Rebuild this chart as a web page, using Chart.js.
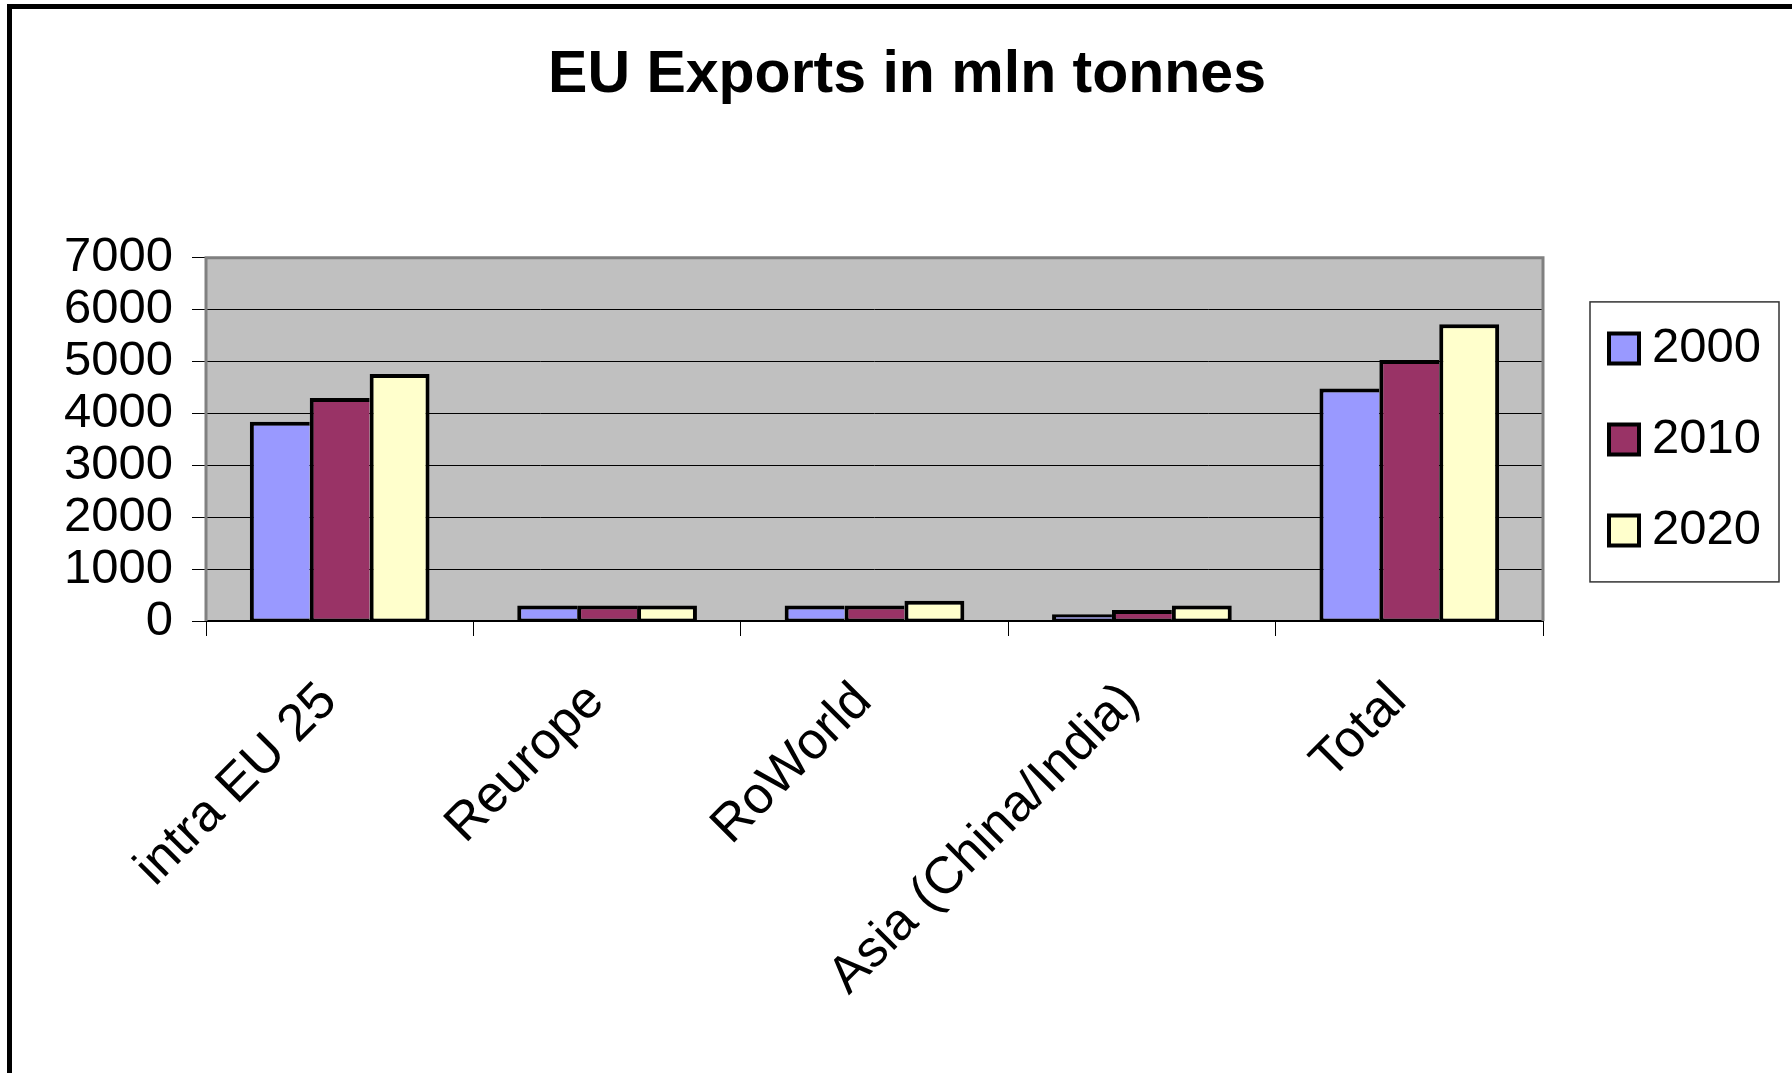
<!DOCTYPE html>
<html>
<head>
<meta charset="utf-8">
<title>EU Exports in mln tonnes</title>
<script src="https://cdn.jsdelivr.net/npm/chart.js@4.4.1/dist/chart.umd.min.js"></script>
<style>
  html, body { margin: 0; padding: 0; background: #fff; }
  #wrap { position: relative; width: 1792px; height: 1073px; overflow: hidden; }
  #frame { position: absolute; left: 7px; top: 4px; right: -20px; bottom: -20px;
           border-top: 5px solid #000; border-left: 5px solid #000; }
  canvas { position: absolute; left: 0; top: 0; }
</style>
</head>
<body>
<div id="wrap">
  <div id="frame"></div>
  <canvas id="chart" width="1792" height="1073"></canvas>
</div>
<script>
const categories = ["intra EU 25", "Reurope", "RoWorld", "Asia (China/India)", "Total"];
const years = ["2000", "2010", "2020"];
const exports2000 = [3840, 300, 300, 130, 4480];
const exports2010 = [4300, 300, 300, 210, 5030];
const exports2020 = [4760, 300, 390, 300, 5720];
const colors = ["#9999ff", "#993366", "#ffffcc"];

const series = [exports2000, exports2010, exports2020];

Chart.defaults.font.family = "'Liberation Sans', Arial, sans-serif";
Chart.defaults.color = "#000";

// grey plot area, its frame, and the box round the legend
const plotFrame = {
  id: "plotFrame",
  beforeDraw(chart) {
    const { ctx, chartArea: a } = chart;
    ctx.save();
    ctx.fillStyle = "#c0c0c0";
    ctx.fillRect(a.left, a.top, a.width, a.height);
    ctx.restore();
  },
  beforeDatasetsDraw(chart) {
    const { ctx, chartArea: a } = chart;
    ctx.save();
    ctx.strokeStyle = "#808080";
    ctx.lineWidth = 3;
    ctx.beginPath();
    ctx.moveTo(a.left, a.bottom);
    ctx.lineTo(a.left, a.top);
    ctx.lineTo(a.right, a.top);
    ctx.lineTo(a.right, a.bottom);
    ctx.stroke();
    ctx.restore();
  },
  afterDraw(chart) {
    const lg = chart.legend;
    const hb = lg.legendHitBoxes;
    if (!hb || !hb.length) return;
    const first = hb[0], last = hb[hb.length - 1];
    const x0 = first.left - 19, y0 = first.top - 22;
    const x1 = lg.right + 18, y1 = last.top + last.height + 27;
    const ctx = chart.ctx;
    ctx.save();
    ctx.strokeStyle = "#333";
    ctx.lineWidth = 1.5;
    ctx.strokeRect(x0, y0, x1 - x0, y1 - y0);
    ctx.restore();
  }
};

const datasets = years.map((year, i) => ({
  label: year,
  data: series[i],
  backgroundColor: colors[i],
  borderColor: "#000",
  borderWidth: { left: 4, top: 4, right: i === years.length - 1 ? 4 : 0, bottom: 2 },
  borderSkipped: false,
  categoryPercentage: 0.672,
  barPercentage: 1
}));

new Chart(document.getElementById("chart"), {
  type: "bar",
  data: { labels: categories, datasets },
  plugins: [plotFrame],
  options: {
    responsive: false,
    animation: false,
    layout: { padding: { left: 53, right: 31, top: 0, bottom: 0 } },
    plugins: {
      tooltip: { enabled: false },
      title: {
        display: true,
        text: "EU Exports in mln tonnes",
        color: "#000",
        font: { size: 59, weight: "bold" },
        padding: { top: 40, bottom: 147 }
      },
      legend: {
        display: true,
        position: "right",
        align: "center",
        fullSize: false,
        maxWidth: 194,
        labels: {
          color: "#000",
          font: { size: 49 },
          boxWidth: 30,
          boxHeight: 30,
          padding: 42,
          textAlign: "right",
          generateLabels(chart) {
            return Chart.defaults.plugins.legend.labels.generateLabels(chart)
              .map(l => ({ ...l, lineWidth: 4, strokeStyle: "#000" }));
          }
        }
      }
    },
    scales: {
      x: {
        grid: { display: true, drawOnChartArea: false, drawTicks: true, tickLength: 15, color: "#000", offset: true },
        border: { display: true, color: "#000", width: 2 },
        ticks: { color: "#000", font: { size: 52 }, minRotation: 45, maxRotation: 45, padding: 35, labelOffset: -11, autoSkip: false },
        afterFit(s) { s.height = 452; }
      },
      y: {
        min: 0,
        max: 7000,
        ticks: { stepSize: 1000, autoSkip: false, color: "#000", font: { size: 49 }, padding: 19, callback: v => String(v) },
        grid: { color: "#000", lineWidth: 1, tickLength: 14, drawTicks: true },
        border: { display: false },
        afterFit(s) { s.width = 153; }
      },
      gap: {
        type: "linear",
        position: "right",
        display: true,
        grid: { display: false },
        border: { display: false },
        ticks: { display: false },
        afterFit(s) { s.width = 24; }
      }
    }
  }
});
</script>
</body>
</html>
